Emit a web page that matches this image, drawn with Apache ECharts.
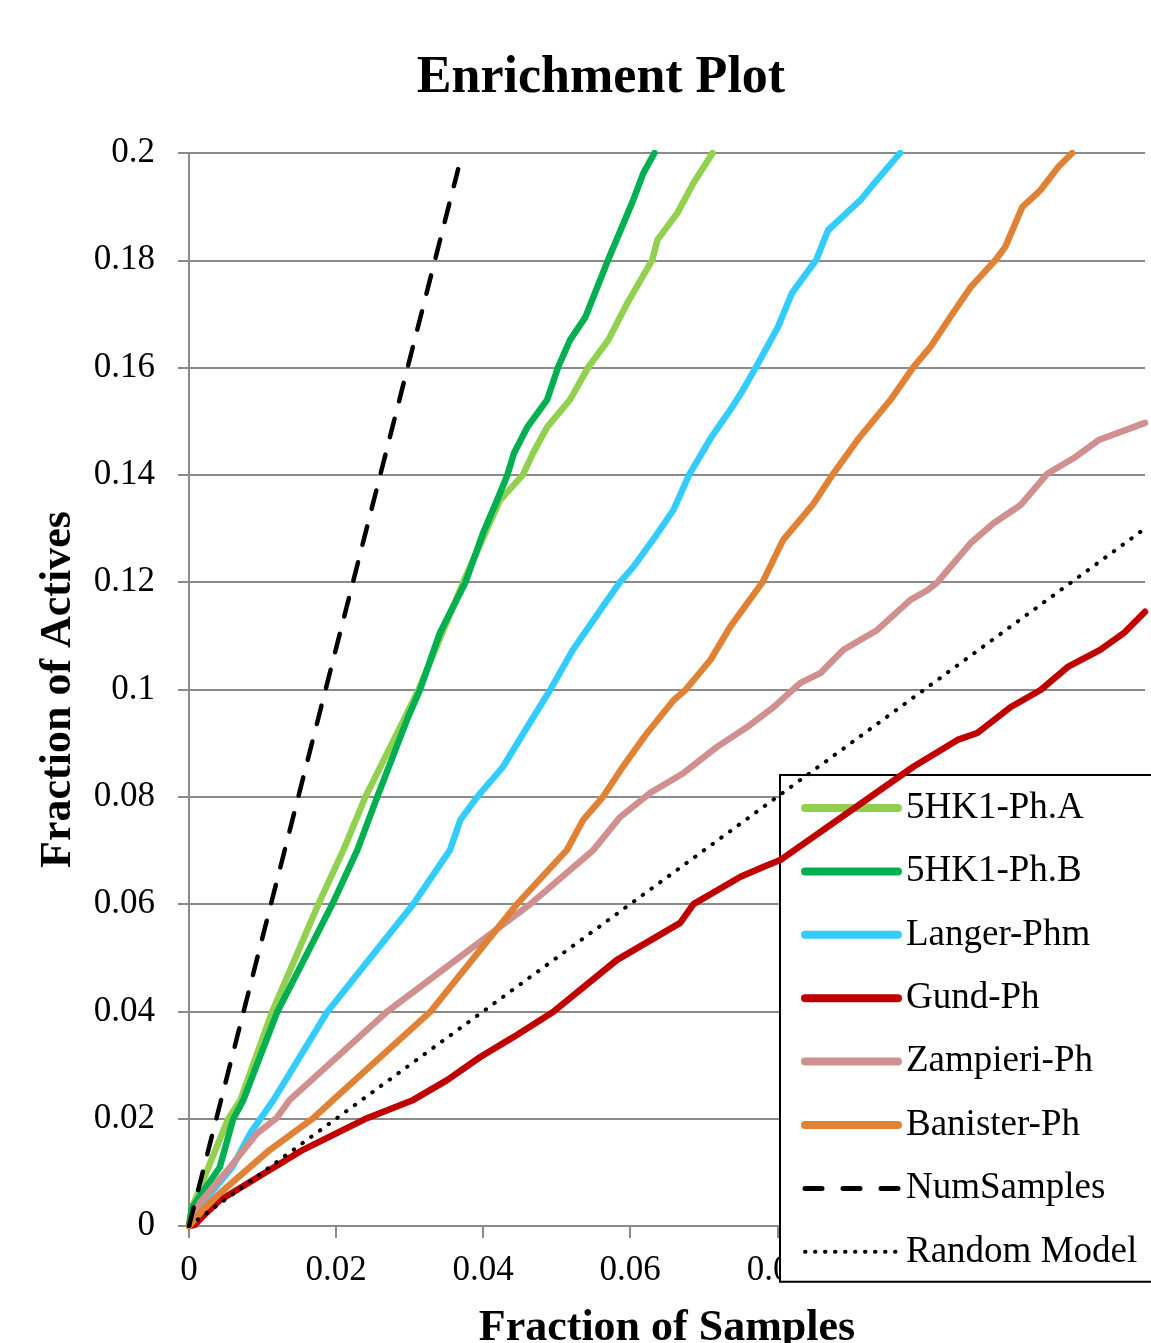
<!DOCTYPE html>
<html><head><meta charset="utf-8">
<script src="https://cdn.jsdelivr.net/npm/echarts@6/dist/echarts.min.js"></script>
<style>html,body{margin:0;padding:0;background:#fff}#c{width:1151px;height:1343px}</style>
</head><body><div id="c"></div>
<script>
// ---- data (x = fraction of samples, y = fraction of actives) ----
const seriesNames = ['5HK1-Ph.A','5HK1-Ph.B','Langer-Phm','Gund-Ph','Zampieri-Ph','Banister-Ph','NumSamples','Random Model'];
const hk1A = [[0,0],[0.0004,0.0034],[0.0053,0.0199],[0.0070,0.0235],[0.0113,0.0399],[0.0176,0.0600],[0.0210,0.0701],[0.0240,0.0800],[0.0294,0.0949],[0.0312,0.0999],[0.0373,0.1200],[0.0403,0.1292],[0.0423,0.1353],[0.0454,0.1400],[0.0468,0.1441],[0.0487,0.1489],[0.0518,0.1540],[0.0543,0.1601],[0.0570,0.1651],[0.0596,0.1720],[0.0630,0.1801],[0.0637,0.1838],[0.0664,0.1888],[0.0686,0.1944],[0.0712,0.2000]];
const hk1B = [[0,0],[0.0004,0.0034],[0.0042,0.0110],[0.0060,0.0199],[0.0074,0.0235],[0.0120,0.0399],[0.0195,0.0600],[0.0229,0.0701],[0.0256,0.0800],[0.0298,0.0949],[0.0314,0.0999],[0.0341,0.1105],[0.0376,0.1200],[0.0400,0.1292],[0.0419,0.1353],[0.0433,0.1400],[0.0442,0.1441],[0.0460,0.1489],[0.0487,0.1540],[0.0502,0.1601],[0.0518,0.1651],[0.0539,0.1694],[0.0570,0.1801],[0.0604,0.1912],[0.0618,0.1963],[0.0633,0.2000]];
const langer = [[0,0],[0.0022,0.0048],[0.0059,0.0110],[0.0083,0.0172],[0.0115,0.0235],[0.0188,0.0399],[0.0305,0.0600],[0.0355,0.0701],[0.0369,0.0757],[0.0392,0.0800],[0.0427,0.0856],[0.0460,0.0930],[0.0491,0.0999],[0.0522,0.1074],[0.0569,0.1167],[0.0586,0.1200],[0.0604,0.1228],[0.0634,0.1285],[0.0659,0.1335],[0.0680,0.1400],[0.0711,0.1472],[0.0736,0.1521],[0.0751,0.1553],[0.0771,0.1601],[0.0801,0.1676],[0.0820,0.1739],[0.0853,0.1801],[0.0869,0.1856],[0.0913,0.1912],[0.0932,0.1944],[0.0967,0.2000]];
const gund = [[0,0],[0.0008,0.0002],[0.0018,0.0017],[0.0042,0.0048],[0.0155,0.0142],[0.0242,0.0201],[0.0305,0.0235],[0.0351,0.0272],[0.0396,0.0315],[0.0441,0.0352],[0.0495,0.0399],[0.0582,0.0496],[0.0668,0.0565],[0.0686,0.0600],[0.0750,0.0651],[0.0784,0.0671],[0.0804,0.0682],[0.0985,0.0856],[0.1045,0.0906],[0.1072,0.0919],[0.1117,0.0967],[0.1158,0.0999],[0.1195,0.1042],[0.1239,0.1074],[0.1271,0.1105],[0.1300,0.1145]];
const zampieri = [[0,0],[0.0015,0.0043],[0.0033,0.0073],[0.0056,0.0110],[0.0092,0.0172],[0.0119,0.0201],[0.0137,0.0235],[0.0269,0.0399],[0.0464,0.0600],[0.0550,0.0701],[0.0586,0.0762],[0.0627,0.0807],[0.0672,0.0844],[0.0718,0.0893],[0.0759,0.0930],[0.0795,0.0967],[0.0831,0.1012],[0.0859,0.1031],[0.0890,0.1074],[0.0936,0.1111],[0.0981,0.1167],[0.1004,0.1185],[0.1018,0.1200],[0.1035,0.1228],[0.1063,0.1273],[0.1094,0.1310],[0.1131,0.1344],[0.1167,0.1402],[0.1205,0.1433],[0.1237,0.1465],[0.1300,0.1497]];
const banister = [[0,0],[0.0019,0.0030],[0.0042,0.0061],[0.0110,0.0142],[0.0169,0.0201],[0.0196,0.0235],[0.0328,0.0399],[0.0446,0.0600],[0.0514,0.0701],[0.0536,0.0757],[0.0563,0.0800],[0.0590,0.0856],[0.0623,0.0919],[0.0659,0.0980],[0.0675,0.0999],[0.0709,0.1055],[0.0736,0.1117],[0.0780,0.1200],[0.0808,0.1279],[0.0848,0.1344],[0.0876,0.1402],[0.0909,0.1465],[0.0954,0.1540],[0.0985,0.1601],[0.1008,0.1638],[0.1035,0.1694],[0.1063,0.1750],[0.1097,0.1801],[0.1110,0.1825],[0.1133,0.1899],[0.1158,0.1931],[0.1182,0.1974],[0.1201,0.2000]];
const numSamples = [[0,0],[0.0366,0.197]];
const randomModel = [[0,0],[0.13,0.13]];
const seriesData = [hk1A, hk1B, langer, gund, zampieri, banister, numSamples, randomModel];
const seriesColors = ['#92D050','#00B050','#33CCFF','#C00000','#D09090','#DF8236','#000000','#000000'];

const FONT = '"Liberation Serif","Times New Roman",serif';
const GRID = '#8a8a8a';

const chart = echarts.init(document.getElementById('c'), null, {renderer:'canvas'});

const lineStyles = [
  {width:6.5, type:'solid'},
  {width:6.5, type:'solid'},
  {width:6.5, type:'solid'},
  {width:6.5, type:'solid'},
  {width:6.5, type:'solid'},
  {width:6.5, type:'solid'},
  {width:4.5, type:[19,18]},
  {width:4, type:[0.5,10.3]}
];
const legendLine = [
  {width:8, type:'solid'},{width:8, type:'solid'},{width:8, type:'solid'},{width:8, type:'solid'},
  {width:8, type:'solid'},{width:8, type:'solid'},{width:5, type:[17,21]},{width:4, type:[0.5,9.5]}
];

chart.setOption({
  animation:false,
  backgroundColor:'#fff',
  title:{text:'Enrichment Plot', left:596, top:48, textAlign:'center',
    textStyle:{fontFamily:FONT, fontWeight:'bold', fontSize:52, color:'#000'}},
  grid:{left:189, top:153, right:6, bottom:117, containLabel:false, outerBoundsMode:'none'},
  legend:{
    orient:'vertical', left:780, top:775, backgroundColor:'#fff',
    borderColor:'#000', borderWidth:2, borderRadius:0,
    padding:[13,40,10,21], itemGap:23.4, itemWidth:93, itemHeight:10,
    textStyle:{fontFamily:FONT, fontSize:37, color:'#000', lineHeight:40, padding:[0,0,0,3]},
    data: seriesNames.map((n,i)=>({name:n, itemStyle:{opacity:0},
      lineStyle:{color:seriesColors[i], width:legendLine[i].width, type:legendLine[i].type, cap:'round'}}))
  },
  xAxis:{
    type:'value', min:0, max:0.13, interval:0.02,
    name:'Fraction of Samples', nameLocation:'middle', nameGap:81,
    nameTextStyle:{fontFamily:FONT, fontWeight:'bold', fontSize:44, color:'#000'},
    axisLine:{show:true, lineStyle:{color:GRID, width:2}},
    axisTick:{show:true, inside:false, length:12, lineStyle:{color:GRID, width:2}},
    axisLabel:{fontFamily:FONT, fontSize:35, color:'#000', margin:27, showMaxLabel:false},
    splitLine:{show:false}
  },
  yAxis:{
    type:'value', min:0, max:0.2, interval:0.02,
    name:'Fraction of Actives', nameLocation:'middle', nameGap:108,
    nameTextStyle:{fontFamily:FONT, fontWeight:'bold', fontSize:44, color:'#000'},
    axisLine:{show:true, lineStyle:{color:GRID, width:2}},
    axisTick:{show:true, inside:false, length:11, lineStyle:{color:GRID, width:2}},
    axisLabel:{fontFamily:FONT, fontSize:35, color:'#000', margin:34},
    splitLine:{show:true, lineStyle:{color:GRID, width:2}}
  },
  series: seriesNames.map((n,i)=>({
    name:n, type:'line', data:seriesData[i], symbol:'none', showSymbol:false,
    smooth:false, clip:true, z:2+i,
    lineStyle:{color:seriesColors[i], width:lineStyles[i].width, type:lineStyles[i].type, cap:'round', join:'round'},
    itemStyle:{color:seriesColors[i]},
    emphasis:{disabled:true}
  }))
});
</script></body></html>
